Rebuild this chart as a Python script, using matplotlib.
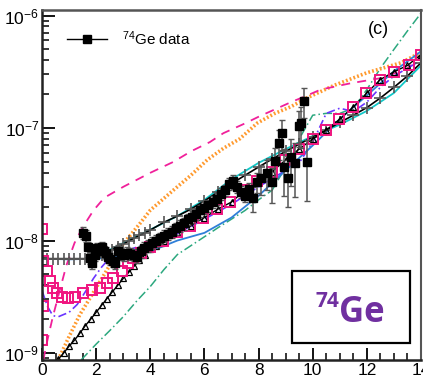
import numpy as np
import matplotlib
matplotlib.use("Agg")
import matplotlib.pyplot as plt
from matplotlib.lines import Line2D
from matplotlib.patches import Rectangle
from matplotlib.ticker import LogLocator, MultipleLocator, NullFormatter

plt.rcParams['font.family'] = ['Liberation Sans', 'DejaVu Sans']
plt.rcParams['mathtext.fontset'] = 'custom'
plt.rcParams['mathtext.rm'] = 'Liberation Sans'
plt.rcParams['mathtext.it'] = 'Liberation Sans:italic'
plt.rcParams['mathtext.bf'] = 'Liberation Sans:bold'

# 74Ge measured strength (MeV, MeV^-3)
data_e = [1.52, 1.62, 1.70, 1.78, 1.85, 1.95, 2.04, 2.13, 2.22, 2.30, 2.37, 2.45,
          2.52, 2.62, 2.70, 2.81, 2.92, 3.04, 3.15, 3.26, 3.40, 3.52, 3.65, 3.78,
          3.90, 4.05, 4.20, 4.35, 4.50, 4.65, 4.80, 4.95, 5.10, 5.25, 5.40, 5.55,
          5.70, 5.85, 6.00, 6.15, 6.30, 6.45, 6.60, 6.75, 6.90, 7.05, 7.20, 7.35,
          7.50, 7.65, 7.80, 7.95, 8.10, 8.30, 8.50, 8.60, 8.74, 8.85, 8.95, 9.07,
          9.20, 9.33, 9.48, 9.56, 9.67, 9.80]
data_f = [1.17e-8, 1.10e-8, 8.7e-9, 7.0e-9, 6.3e-9, 7.5e-9, 8.5e-9, 8.2e-9, 8.7e-9, 8.0e-9, 7.8e-9, 7.2e-9,
          6.9e-9, 6.6e-9, 6.3e-9, 8.1e-9, 7.6e-9, 7.4e-9, 7.8e-9, 7.6e-9, 7.5e-9, 7.2e-9, 8.0e-9, 8.6e-9,
          9.0e-9, 9.5e-9, 1.0e-8, 1.05e-8, 1.1e-8, 1.15e-8, 1.2e-8, 1.28e-8, 1.35e-8, 1.42e-8, 1.55e-8, 1.62e-8,
          1.72e-8, 1.85e-8, 1.95e-8, 2.05e-8, 2.2e-8, 2.35e-8, 2.6e-8, 2.8e-8, 3.2e-8, 3.4e-8, 3.0e-8, 2.7e-8,
          2.5e-8, 2.9e-8, 2.4e-8, 3.3e-8, 3.6e-8, 4.0e-8, 3.3e-8, 5.1e-8, 7.4e-8, 9.1e-8, 4.5e-8, 3.6e-8,
          5.5e-8, 4.9e-8, 1.05e-7, 1.1e-7, 1.75e-7, 5.0e-8]
data_rel_err = [0.12] * 50 + [0.25, 0.2, 0.3, 0.3, 0.35, 0.3, 0.3, 0.3, 0.45, 0.45,
                              0.45, 0.5, 0.35, 0.4, 0.3, 0.55]

# model curves
plus_e = [0.0, 0.2, 0.4, 0.6, 0.8, 1.0, 1.2, 1.4, 1.6, 1.8, 2.0, 2.2, 2.4, 2.6, 2.8,
          3.0, 3.2, 3.4, 3.6, 3.8, 4.0, 4.5, 5.0, 5.5, 6.0, 6.5, 7.0, 7.5, 8.0, 8.5,
          9.0, 9.5, 10.0, 10.5, 11.0, 11.5, 12.0, 12.5, 13.0, 13.5, 14.0]
plus_f = [7.0e-9, 6.9e-9, 6.9e-9, 6.9e-9, 6.9e-9, 6.9e-9, 6.9e-9, 6.9e-9, 6.9e-9, 7.0e-9,
          7.2e-9, 7.5e-9, 7.9e-9, 8.3e-9, 8.8e-9, 9.3e-9, 9.9e-9, 1.05e-8, 1.11e-8, 1.17e-8,
          1.24e-8, 1.45e-8, 1.65e-8, 1.9e-8, 2.25e-8, 2.7e-8, 3.2e-8, 3.8e-8, 4.5e-8, 5.3e-8,
          6.2e-8, 7.2e-8, 8.3e-8, 9.6e-8, 1.12e-7, 1.3e-7, 1.52e-7, 1.85e-7, 2.3e-7, 2.9e-7, 3.8e-7]

tri_e = [0.6, 0.8, 1.0, 1.2, 1.4, 1.6, 1.8, 2.0, 2.2, 2.4, 2.6, 2.8, 3.0, 3.2, 3.4,
         3.6, 3.8, 4.0, 4.2, 4.4, 4.5, 5.0, 5.5, 6.0, 6.5, 7.0, 7.5, 8.0, 8.5, 9.0,
         9.5, 10.0, 10.5, 11.0, 11.5, 12.0, 12.5, 13.0, 13.5, 14.0]
tri_f = [8.8e-10, 1.0e-9, 1.15e-9, 1.3e-9, 1.5e-9, 1.75e-9, 2.0e-9, 2.3e-9, 2.65e-9, 3.05e-9,
         3.5e-9, 4.0e-9, 4.6e-9, 5.2e-9, 5.9e-9, 6.7e-9, 7.5e-9, 8.4e-9, 9.0e-9, 9.6e-9,
         1.0e-8, 1.18e-8, 1.36e-8, 1.6e-8, 1.9e-8, 2.2e-8, 2.8e-8, 3.4e-8, 4.1e-8, 5.2e-8,
         6.5e-8, 8.0e-8, 9.6e-8, 1.2e-7, 1.54e-7, 2.05e-7, 2.7e-7, 3.16e-7, 3.6e-7, 4.5e-7]

sq_e = [0.0, 0.02, 0.0, 0.04, 0.18, 0.30, 0.40, 0.55, 0.74, 0.96, 1.22, 1.52, 1.85,
        2.15, 2.40, 2.63, 2.96, 3.19, 3.37, 3.67, 4.0, 4.48, 5.0, 5.48, 5.96, 6.48,
        6.96, 7.48, 7.96, 8.48, 8.96, 9.48, 10.0, 10.48, 10.96, 11.5, 11.96, 12.48,
        13.0, 13.56, 14.0]
sq_f = [1.3e-9, 2.6e-9, 1.26e-8, 6.6e-9, 5.4e-9, 4.4e-9, 3.8e-9, 3.45e-9, 3.17e-9, 3.1e-9,
        3.17e-9, 3.4e-9, 3.6e-9, 3.8e-9, 4.15e-9, 4.6e-9, 5.4e-9, 6.3e-9, 7.0e-9, 7.8e-9,
        8.7e-9, 1.0e-8, 1.18e-8, 1.36e-8, 1.6e-8, 1.9e-8, 2.2e-8, 2.8e-8, 3.4e-8, 4.1e-8,
        5.2e-8, 6.5e-8, 8.0e-8, 9.6e-8, 1.2e-7, 1.54e-7, 2.05e-7, 2.7e-7, 3.16e-7, 3.6e-7, 4.5e-7]

cyan_e = [2.0, 3.0, 4.0, 5.0, 6.0, 7.0, 8.0, 9.0, 10.0, 11.0, 12.0, 13.0, 14.0]
cyan_f = [7.2e-9, 9.5e-9, 1.25e-8, 1.65e-8, 2.3e-8, 3.5e-8, 4.9e-8, 6.5e-8, 8.5e-8,
          1.07e-7, 1.42e-7, 2.05e-7, 3.6e-7]

blue_e = [0.0, 1.0, 2.0, 3.0, 4.0, 5.0, 6.0, 7.0, 8.0, 9.0, 10.0, 11.0, 12.0, 13.0, 14.0]
blue_f = [6.9e-9, 6.8e-9, 6.9e-9, 7.3e-9, 8.0e-9, 1.0e-8, 1.17e-8, 1.6e-8, 2.5e-8,
          4.2e-8, 7.0e-8, 1.2e-7, 1.95e-7, 3.2e-7, 4.8e-7]

violet_e = [0.0, 0.2, 0.4, 0.6, 0.8, 1.0, 1.3, 1.6, 1.9, 2.2, 2.5, 3.0, 4.0, 5.0, 6.0,
            7.0, 8.0, 9.0, 9.5, 10.0, 10.5, 11.0, 11.5, 12.0, 12.5, 13.0, 13.5, 14.0]
violet_f = [3.6e-9, 2.6e-9, 2.15e-9, 2.1e-9, 2.2e-9, 2.3e-9, 2.7e-9, 3.5e-9, 4.6e-9,
            5.8e-9, 7.0e-9, 8.0e-9, 9.5e-9, 1.15e-8, 1.55e-8, 2.1e-8, 3.0e-8, 4.2e-8,
            4.9e-8, 7.5e-8, 1.35e-7, 1.5e-7, 1.4e-7, 1.7e-7, 2.3e-7, 2.9e-7, 3.4e-7, 4.0e-7]

green_e = [1.45, 2.0, 2.5, 3.0, 3.5, 4.0, 4.5, 5.0, 5.5, 6.0, 6.5, 7.0, 7.5, 8.0, 8.5,
           9.0, 9.5, 10.0, 10.5, 11.0, 11.5, 12.0, 12.5, 13.0, 13.5, 14.0]
green_f = [8.7e-10, 1.2e-9, 1.58e-9, 2.1e-9, 2.9e-9, 3.9e-9, 5.5e-9, 7.5e-9, 9.0e-9,
           1.08e-8, 1.3e-8, 1.55e-8, 1.85e-8, 2.3e-8, 2.8e-8, 4.5e-8, 8.0e-8, 1.3e-7,
           1.35e-7, 1.35e-7, 1.5e-7, 2.2e-7, 3.4e-7, 5.0e-7, 7.3e-7, 1.05e-6]

pink_e = [0.05, 0.2, 0.4, 0.6, 0.9, 1.2, 1.5, 1.9, 2.3, 3.0, 4.0, 4.85, 5.5, 6.2, 6.7,
          7.5, 8.0, 9.2, 9.8, 10.3, 11.4, 12.6, 13.5, 14.0]
pink_f = [8.7e-10, 1.3e-9, 2.1e-9, 3.2e-9, 6.0e-9, 9.5e-9, 1.31e-8, 1.85e-8, 2.4e-8,
          3.0e-8, 4.0e-8, 5.0e-8, 6.2e-8, 7.5e-8, 9.0e-8, 1.1e-7, 1.26e-7, 1.7e-7,
          1.95e-7, 2.2e-7, 2.5e-7, 2.8e-7, 3.4e-7, 4.3e-7]

orange_e = [0.6, 1.0, 1.4, 1.78, 2.3, 2.9, 3.6, 4.0, 4.85, 5.5, 6.1, 6.7, 7.3, 7.96,
            8.6, 9.2, 9.8, 10.8, 12.0, 13.26, 14.0]
orange_f = [8.7e-10, 1.4e-9, 2.2e-9, 3.1e-9, 5.0e-9, 8.7e-9, 1.4e-8, 1.86e-8, 2.8e-8,
            3.8e-8, 5.2e-8, 6.6e-8, 8.0e-8, 1.11e-7, 1.35e-7, 1.55e-7, 1.86e-7, 2.4e-7,
            3.1e-7, 3.8e-7, 4.7e-7]

W, H = 423, 383
fig = plt.figure(figsize=(W / 100, H / 100), dpi=100)
ax = fig.add_axes([42 / W, 23 / H, 379 / W, 350 / H])

ax.plot(green_e, green_f, color='#2ca87f', lw=1.1, ls=(0, (6, 2, 1, 2)))
ax.plot(orange_e, orange_f, color='#ff9a2e', lw=2.6, ls=(0, (0.5, 0.6)))
ax.plot(pink_e, pink_f, color='#f0209a', lw=1.3, ls=(0, (5, 4)))
ax.plot(violet_e, violet_f, color='#6a35ff', lw=1.2, ls=(0, (5, 2, 1, 2)))
ax.plot(blue_e, blue_f, color='#2f7fd8', lw=1.3)
ax.plot(cyan_e, cyan_f, color='#12c8c8', lw=1.3)
ax.plot(plus_e, plus_f, color='k', lw=1.2, marker='+', ms=8, mec='#555555', mew=1.2)
ax.plot(tri_e, tri_f, color='k', lw=1.0, marker='^', ms=5, mfc='none', mec='k', mew=0.9)
ax.plot(sq_e, sq_f, ls='none', marker='s', ms=6.5, mfc='none', mec='#f0147f', mew=1.4)

data_e = np.array(data_e)
data_f = np.array(data_f)
ax.errorbar(data_e, data_f, yerr=data_f * np.array(data_rel_err), fmt='s',
            color='k', ms=6, ecolor='#555555', elinewidth=1.1, capsize=2)

ax.set_yscale('log')
ax.set_xlim(0, 14)
ax.set_ylim(8.67e-10, 1.12e-6)
ax.xaxis.set_major_locator(MultipleLocator(2))
ax.xaxis.set_minor_locator(MultipleLocator(0.5))
ax.yaxis.set_major_locator(LogLocator(base=10))
ax.yaxis.set_minor_locator(LogLocator(base=10, subs=np.arange(2, 10)))
ax.yaxis.set_minor_formatter(NullFormatter())
ax.tick_params(which='major', direction='in', length=9, width=1.3, labelsize=12.5,
               top=False, right=False)
ax.tick_params(which='minor', direction='in', length=5, width=1.1, top=False, right=False)
ax.tick_params(axis='x', pad=2)
ax.tick_params(axis='y', pad=2)
for side in ['left', 'bottom']:
    ax.spines[side].set_linewidth(1.8)
    ax.spines[side].set_color('#222222')
ax.spines['top'].set_linewidth(1.8)
ax.spines['top'].set_color('#555555')
ax.spines['right'].set_linewidth(1.5)
ax.spines['right'].set_color('#555555')

handle = Line2D([0], [0], color='k', lw=1, marker='s', ms=6)
ax.legend([handle], ['$^{74}$Ge data'], loc='upper left', frameon=False,
          bbox_to_anchor=(0.03, 0.985), fontsize=11, handlelength=2.6, handletextpad=1.0)

fig.text(378 / W, 1 - 29 / H, '(c)', fontsize=13, ha='center', va='center')

fig.add_artist(Rectangle((292 / W, 1 - 343 / H), 118 / W, 72 / H,
                         transform=fig.transFigure, fill=False, ec='k', lw=1.6))
fig.text(339 / W, 1 - 322 / H, 'Ge', fontsize=25, fontweight='bold', color='#7030a0',
         family=['Open Sans', 'DejaVu Sans'], ha='left', va='baseline')
fig.text(339 / W, 1 - 307 / H, '74', fontsize=15, fontweight='bold', color='#7030a0',
         family=['Open Sans', 'DejaVu Sans'], ha='right', va='baseline')

fig.savefig('out.png', dpi=100)
